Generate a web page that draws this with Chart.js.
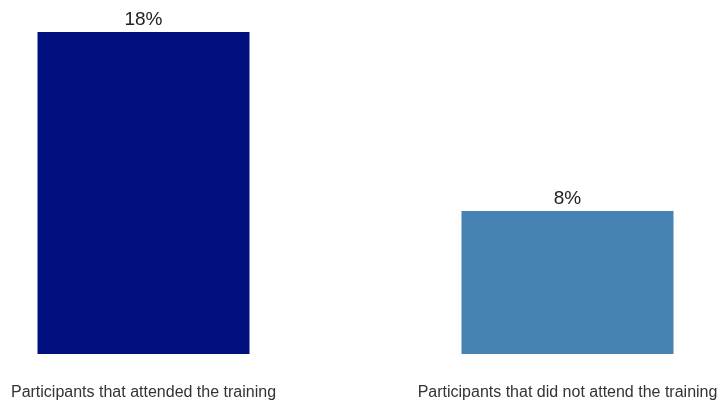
<!DOCTYPE html>
<html>
<head>
<meta charset="utf-8">
<script src="https://cdn.jsdelivr.net/npm/chart.js@4.4.1/dist/chart.umd.min.js"></script>
<style>
  html, body { margin: 0; padding: 0; background: #fff; }
  #wrap { width: 719px; height: 406px; }
</style>
</head>
<body>
<div id="wrap"><canvas id="grafico"></canvas></div>
<script>
const grupos = ['Participants that attended the training', 'Participants that did not attend the training'];
const percentuais = [18, 8];
const cores = ['#00107F', '#4682B4'];

// writes the percentage above each bar
const rotulosValor = {
  id: 'rotulosValor',
  afterDatasetsDraw(chart) {
    const ctx = chart.ctx;
    const meta = chart.getDatasetMeta(0);
    ctx.save();
    ctx.font = '19px "Liberation Sans", Arial, sans-serif';
    ctx.fillStyle = '#222';
    ctx.textAlign = 'center';
    ctx.textBaseline = 'bottom';
    meta.data.forEach((bar, i) => {
      ctx.fillText(percentuais[i] + '%', bar.x, bar.y - 3);
    });
    ctx.restore();
  }
};

new Chart(document.getElementById('grafico'), {
  type: 'bar',
  data: {
    labels: grupos,
    datasets: [{
      data: percentuais,
      backgroundColor: cores,
      barPercentage: 0.5,
      categoryPercentage: 1,
      clip: false
    }]
  },
  options: {
    responsive: true,
    maintainAspectRatio: false,
    animation: false,
    layout: { padding: { left: 143.5, right: 151.5, top: 32, bottom: 0 } },
    plugins: { legend: { display: false }, tooltip: { enabled: false } },
    scales: {
      x: {
        offset: false,
        grid: { display: false },
        border: { display: false },
        afterFit(scale) {
          scale.height = 52;
          scale.paddingLeft = 0;
          scale.paddingRight = 0;
        },
        ticks: {
          color: '#333',
          padding: 21,
          maxRotation: 0,
          autoSkip: false,
          font: { family: '"Liberation Sans", Arial, sans-serif', size: 16 }
        }
      },
      y: {
        display: false,
        min: 0,
        max: 18
      }
    }
  },
  plugins: [rotulosValor]
});
</script>
</body>
</html>
